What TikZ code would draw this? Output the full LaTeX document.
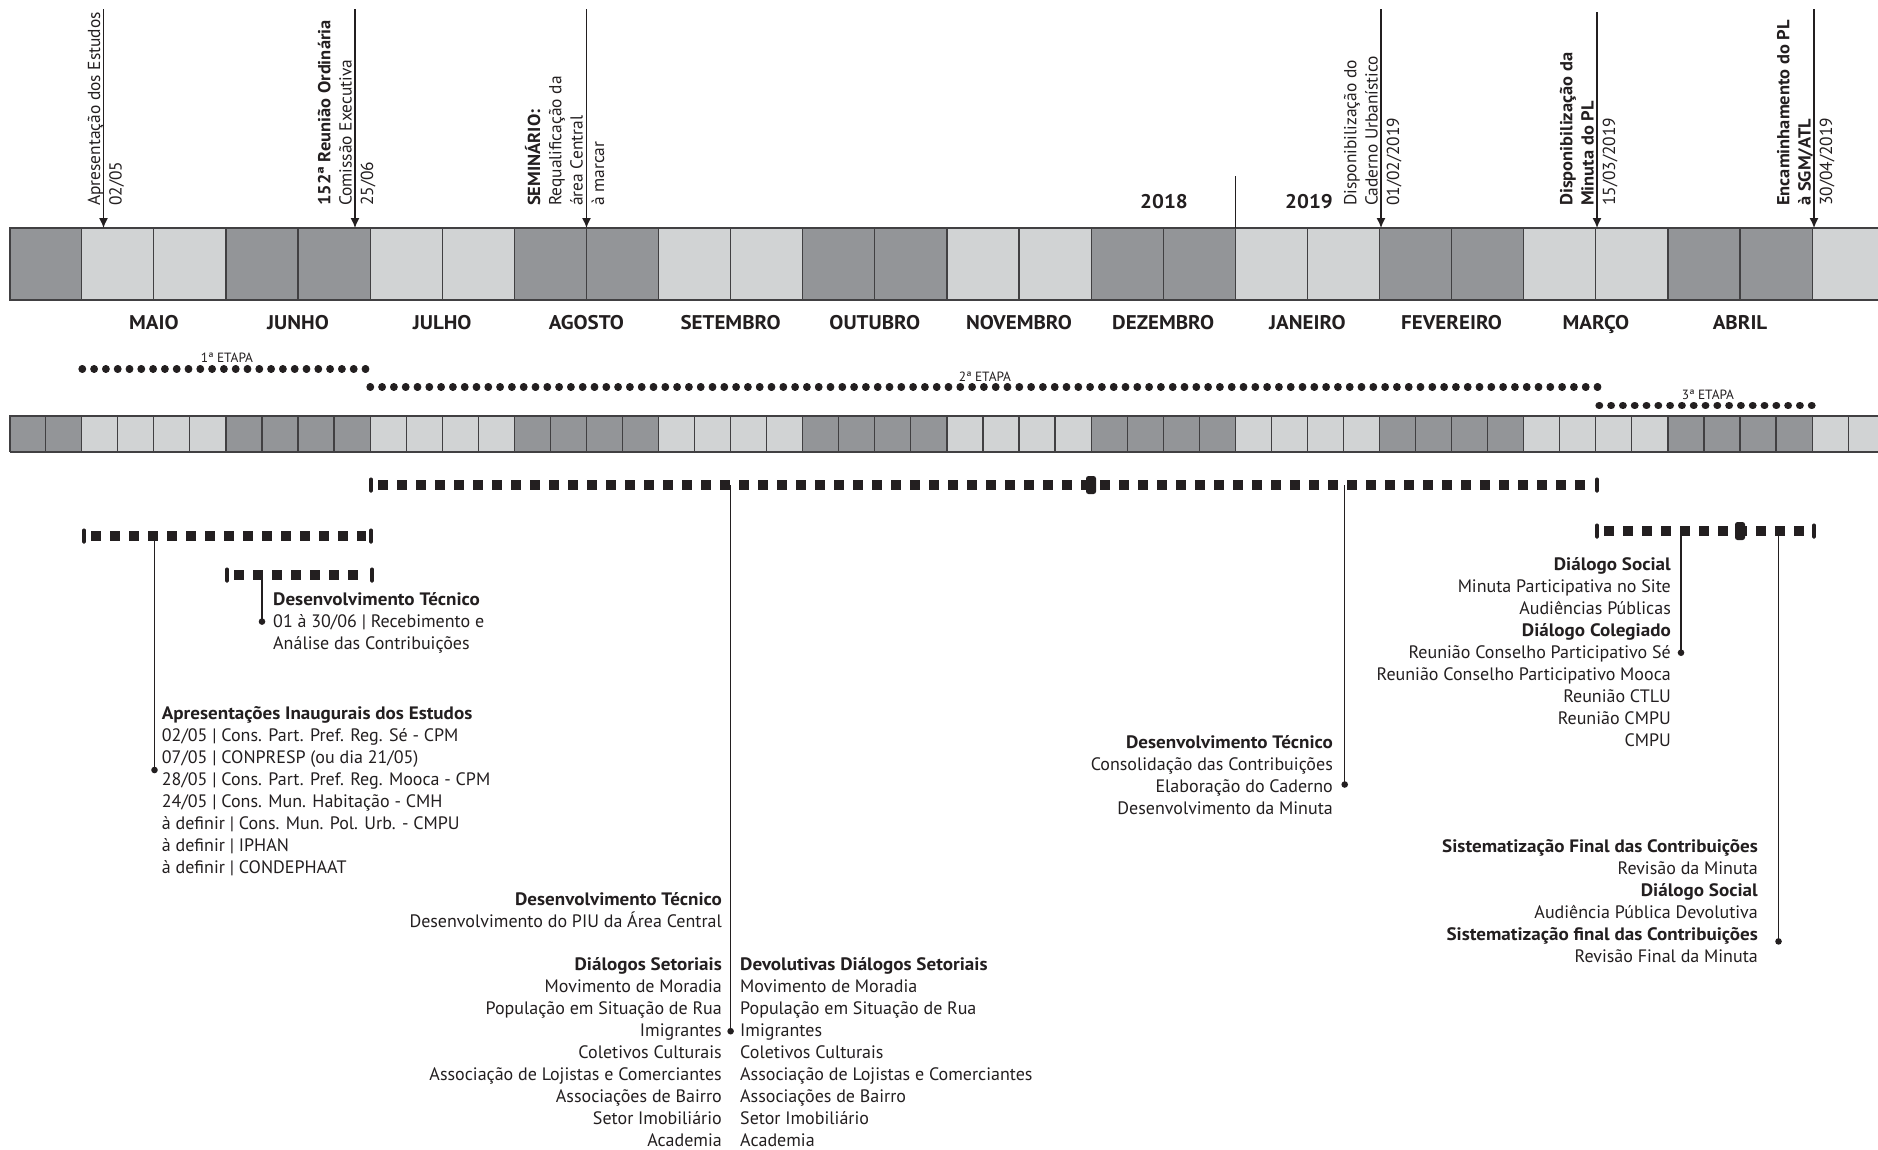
\documentclass[tikz,border=0pt]{standalone}
\usepackage{fontspec}
\setmainfont{PT Sans}[BoldFeatures={FakeStretch=1.06}]
\usetikzlibrary{arrows.meta}
\definecolor{ink}{HTML}{231F20}
\definecolor{celldark}{HTML}{939598}
\definecolor{celllight}{HTML}{D1D3D4}
\definecolor{cellrule}{HTML}{414042}

% end cap of a bracket bar
\newcommand{\bcap}[2]{\fill[ink, rounded corners=1.2pt] (#1-1.9,#2-7.5) rectangle (#1+1.9,#2+7.5);}
% larger mark inside a bracket bar
\newcommand{\bmark}[2]{\fill[ink, rounded corners=2.5pt] (#1-5,#2-9) rectangle (#1+5,#2+9);}

\begin{document}
\begin{tikzpicture}[x=1pt,y=-1pt,
  month/.style={font=\fontsize{19.8}{19.8}\selectfont\bfseries, text=ink, inner sep=0pt, anchor=base},
  evtext/.style={font=\fontsize{17.4}{21.3}\selectfont, text=ink, inner sep=0pt, rotate=90, anchor=base west, align=left},
  note/.style={font=\fontsize{18}{22}\selectfont, text=ink, inner sep=0pt},
  noteL/.style={note, align=left, anchor=base west},
  noteR/.style={note, align=right, anchor=base east},
  etapa/.style={font=\fontsize{13.4}{13.4}\selectfont, text=ink, inner sep=0pt, anchor=base},
  phase/.style={draw=ink, line width=7.2pt, dash pattern=on 0.6pt off 11.2pt, line cap=round},
  bar/.style={draw=ink, line width=10pt, dash pattern=on 10pt off 9pt},
  evarrow/.style={draw=ink, line width=1.3pt, -{Latex[length=10pt,width=9pt]}},
  link/.style={draw=ink, line width=1.4pt},
  cellbox/.style={draw=cellrule, line width=1.2pt}
]
\useasboundingbox (0,0) rectangle (1878,1149);
\fill[white] (0,0) rectangle (1878,1149);

% ---------- month bar (two cells per month) ----------
\foreach \k in {0,...,25}{
  \pgfmathtruncatemacro{\d}{mod(int((\k+1)/2),2)}
  \pgfmathsetmacro{\xa}{9.6+72.1*\k}
  \pgfmathsetmacro{\xb}{9.6+72.1*(\k+1)}
  \ifnum\d=0
    \filldraw[cellbox, fill=celldark] (\xa,228) rectangle (\xb,300);
  \else
    \filldraw[cellbox, fill=celllight] (\xa,228) rectangle (\xb,300);
  \fi
}
\draw[cellrule, line width=2pt] (9.6,228) -- (1878,228) (9.6,300) -- (1878,300) (9.6,228) -- (9.6,300);

% ---------- week bar (four cells per month) ----------
\foreach \j in {0,...,51}{
  \pgfmathtruncatemacro{\d}{mod(int((int(\j/2)+1)/2),2)}
  \pgfmathsetmacro{\xa}{9.6+36.05*\j}
  \pgfmathsetmacro{\xb}{9.6+36.05*(\j+1)}
  \ifnum\d=0
    \filldraw[cellbox, fill=celldark] (\xa,415.6) rectangle (\xb,451.5);
  \else
    \filldraw[cellbox, fill=celllight] (\xa,415.6) rectangle (\xb,451.5);
  \fi
}
\draw[cellrule, line width=2pt] (9.6,415.6) -- (1878,415.6) (9.6,451.5) -- (1878,451.5) (9.6,415.6) -- (9.6,451.5);

% ---------- month names ----------
\foreach \name [count=\i from 0] in {MAIO,JUNHO,JULHO,AGOSTO,SETEMBRO,OUTUBRO,NOVEMBRO,DEZEMBRO,JANEIRO,FEVEREIRO,MARÇO,ABRIL}{
  \node[month] (m\i) at (153.8+144.2*\i,329) {\name};
}

% ---------- years ----------
\node[month] (y2018) at (1164,208) {2018};
\node[month] (y2019) at (1309,208) {2019};
\coordinate (ysplit-top) at (1235.3,176);
\coordinate (ysplit-bot) at (1235.3,228);
\draw[ink, line width=1.3pt] (ysplit-top) -- (ysplit-bot);

% ---------- milestones ----------
\coordinate (e1a) at (103.5,9);   \coordinate (e1b) at (103.5,228);
\coordinate (e2a) at (355,9);     \coordinate (e2b) at (355,228);
\coordinate (e3a) at (586.5,9);   \coordinate (e3b) at (586.5,228);
\coordinate (e4a) at (1381,9);    \coordinate (e4b) at (1381,228);
\coordinate (e5a) at (1597,12);   \coordinate (e5b) at (1597,228);
\coordinate (e6a) at (1814,9);    \coordinate (e6b) at (1814,228);
\foreach \e in {1,...,6}{ \draw[evarrow] (e\e a) -- (e\e b); }

% the anchor sits on the baseline of the last (date) line
\node[evtext] (t1) at (121.5,206) {Apresentação dos Estudos\\02/05};
\node[evtext] (t2) at (373,206) {\textbf{152ª Reunião Ordinária}\\Comissão Executiva\\25/06};
\node[evtext] (t3) at (604,206) {\textbf{SEMINÁRIO:}\\Requalificação da\\área Central\\à marcar};
\node[evtext] (t4) at (1399,206) {Disponibilização do\\Caderno Urbanístico\\01/02/2019};
\node[evtext] (t5) at (1615,206) {\textbf{Disponibilização da}\\\textbf{Minuta do PL}\\15/03/2019};
\node[evtext] (t6) at (1832,206) {\textbf{Encaminhamento do PL}\\\textbf{à SGM/ATL}\\30/04/2019};

% ---------- phases ----------
\coordinate (p1a) at (82,369);   \coordinate (p1b) at (372,369);
\coordinate (p2a) at (370,387);  \coordinate (p2b) at (1600,387);
\coordinate (p3a) at (1599,405.5); \coordinate (p3b) at (1815,405.5);
\draw[phase] (p1a) -- (p1b);
\draw[phase] (p2a) -- (p2b);
\draw[phase] (p3a) -- (p3b);
\node[etapa] (l1) at (227,362) {1ª ETAPA};
\node[etapa] (l2) at (985,381) {2ª ETAPA};
\node[etapa] (l3) at (1708,399) {3ª ETAPA};

% ---------- activity bars ----------
\coordinate (A-l) at (371,485);   \coordinate (A-r) at (1597,485);
\coordinate (B-l) at (84,536);    \coordinate (B-r) at (371,536);
\coordinate (C-l) at (227,575);   \coordinate (C-r) at (372,575);
\coordinate (D-l) at (1597,531);  \coordinate (D-r) at (1814,531);
\foreach \b in {A,B,C,D}{ \draw[bar] ([xshift=7pt]\b-l) -- ([xshift=-5pt]\b-r); }
\bcap{371}{485} \bcap{1597}{485}
\bcap{84}{536}  \bcap{371}{536}
\bcap{227}{575} \bcap{372}{575}
\bcap{1597}{531} \bcap{1814}{531}
\bmark{1091}{485}
\bmark{1740}{531}

% ---------- leaders ----------
\coordinate (kA1) at (730.6,485);  \coordinate (dA1) at (730.6,1031.2);
\coordinate (kA2) at (1344.7,485); \coordinate (dA2) at (1344.7,784.5);
\coordinate (kB) at (154.5,536);   \coordinate (dB) at (154.5,770);
\coordinate (kC) at (262,575);     \coordinate (dC) at (262,621.6);
\coordinate (kD1) at (1681,531);   \coordinate (dD1) at (1681,652.7);
\coordinate (kD2) at (1778.5,531); \coordinate (dD2) at (1778.5,941.4);
\foreach \p in {A1,A2,B,C,D1,D2}{
  \draw[link] (k\p) -- (d\p);
  \fill[ink] (d\p) circle (3.3pt);
}

% ---------- notes (anchored on the baseline of their last line) ----------
\node[noteL] (n1) at (273,649.4) {\textbf{Desenvolvimento Técnico}\\01 à 30/06 | Recebimento e\\Análise das Contribuições};
\node[noteL] (n2) at (161.7,873) {\textbf{Apresentações Inaugurais dos Estudos}\\02/05 | Cons. Part. Pref. Reg. Sé - CPM\\07/05 | CONPRESP (ou dia 21/05)\\28/05 | Cons. Part. Pref. Reg. Mooca - CPM\\24/05 | Cons. Mun. Habitação - CMH\\à definir | Cons. Mun. Pol. Urb. - CMPU\\à definir | IPHAN\\à definir | CONDEPHAAT};
\node[noteR] (n3) at (722,927.5) {\textbf{Desenvolvimento Técnico}\\Desenvolvimento do PIU da Área Central};
\node[noteR] (n4) at (722,1146.3) {\textbf{Diálogos Setoriais}\\Movimento de Moradia\\População em Situação de Rua\\Imigrantes\\Coletivos Culturais\\Associação de Lojistas e Comerciantes\\Associações de Bairro\\Setor Imobiliário\\Academia};
\node[noteL] (n5) at (740,1146.3) {\textbf{Devolutivas Diálogos Setoriais}\\Movimento de Moradia\\População em Situação de Rua\\Imigrantes\\Coletivos Culturais\\Associação de Lojistas e Comerciantes\\Associações de Bairro\\Setor Imobiliário\\Academia};
\node[noteR] (n6) at (1333,814.3) {\textbf{Desenvolvimento Técnico}\\Consolidação das Contribuições\\Elaboração do Caderno\\Desenvolvimento da Minuta};
\node[noteR] (n7) at (1671,746.4) {\textbf{Diálogo Social}\\Minuta Participativa no Site\\Audiências Públicas\\\textbf{Diálogo Colegiado}\\Reunião Conselho Participativo Sé\\Reunião Conselho Participativo Mooca\\Reunião CTLU\\Reunião CMPU\\CMPU};
\node[noteR] (n8) at (1758,962.8) {\textbf{Sistematização Final das Contribuições}\\Revisão da Minuta\\\textbf{Diálogo Social}\\Audiência Pública Devolutiva\\\textbf{Sistematização final das Contribuições}\\Revisão Final da Minuta};
\end{tikzpicture}
\end{document}
